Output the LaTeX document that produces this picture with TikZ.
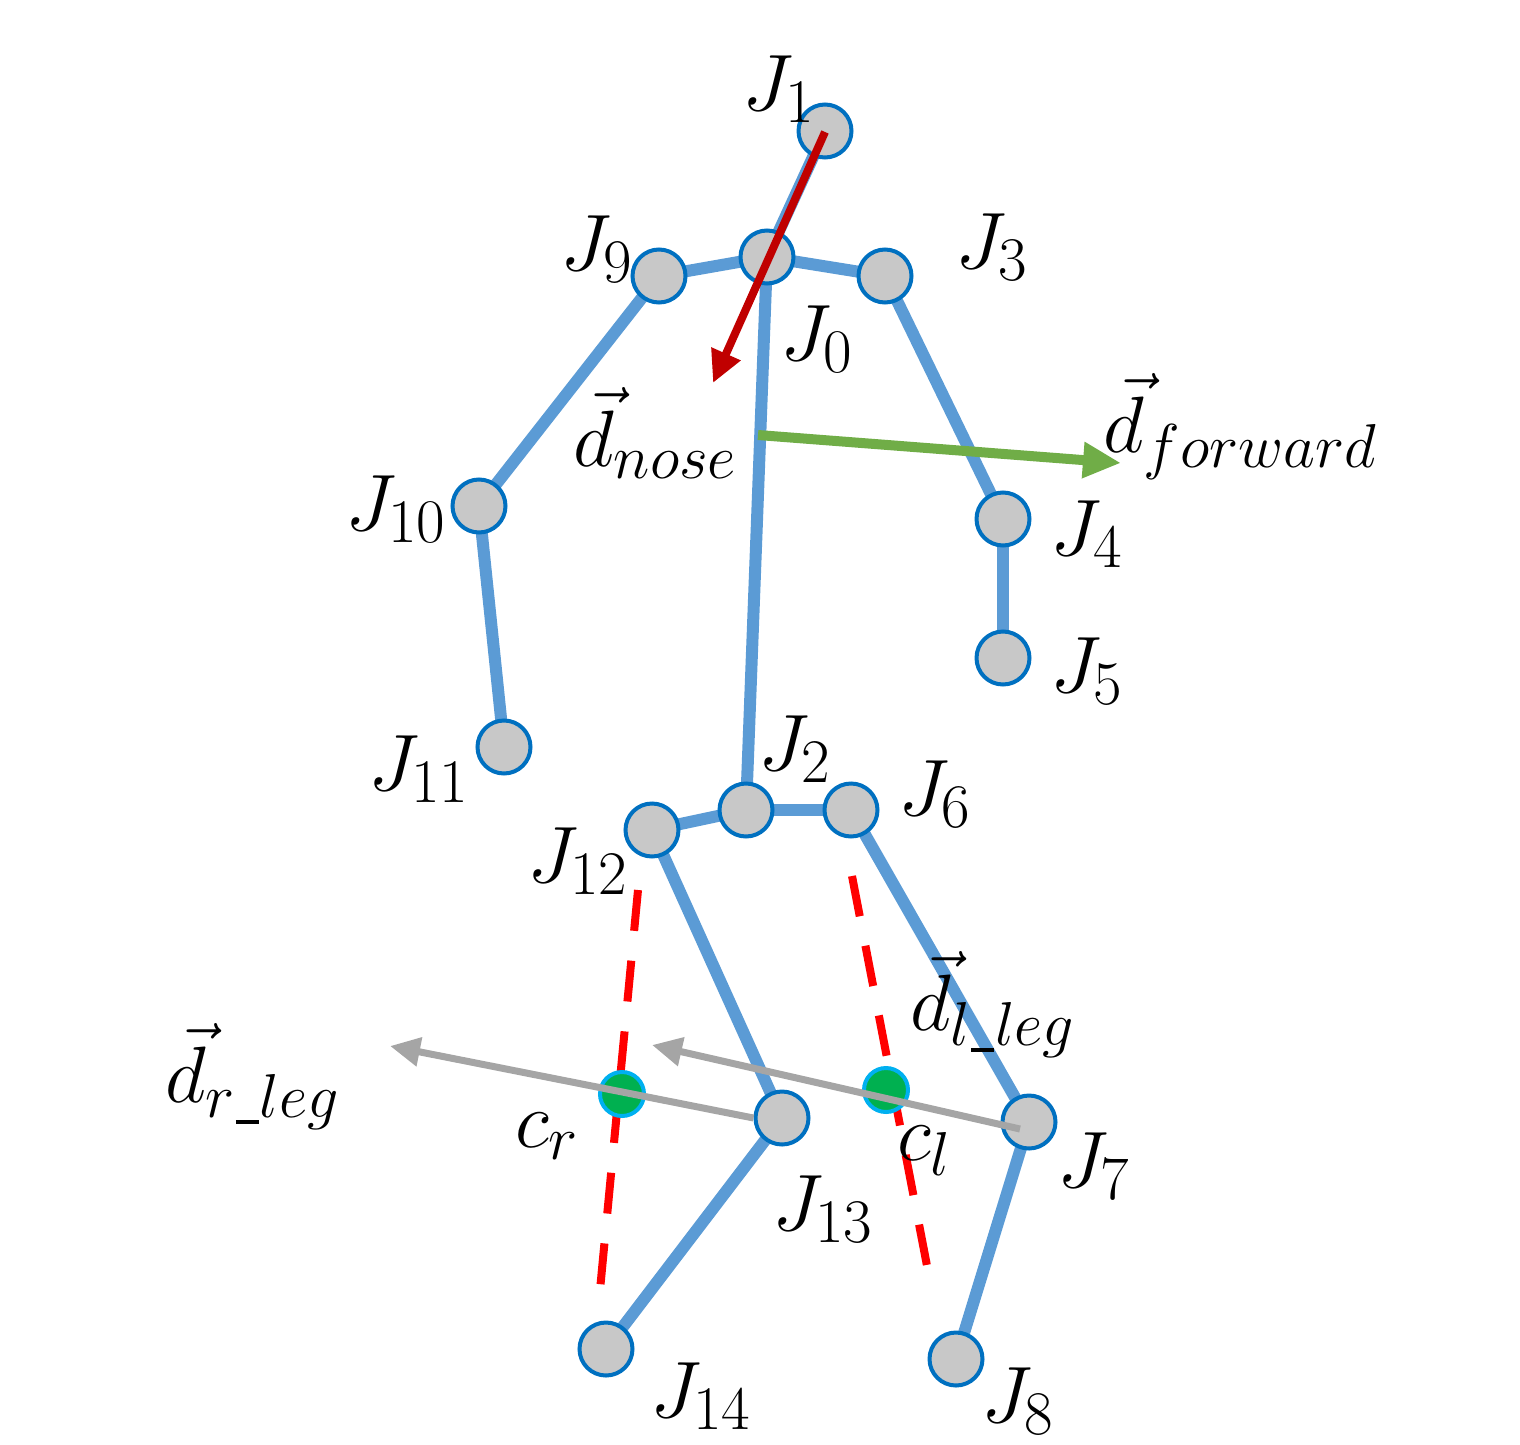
\RequirePackage{fix-cm}
\documentclass[tikz,border=0pt]{standalone}
\usetikzlibrary{arrows.meta}
\DeclareMathSizes{80}{80}{62}{48}
\definecolor{bone}{HTML}{5B9BD5}
\definecolor{jointborder}{HTML}{0070C0}
\definecolor{jointfill}{HTML}{C8C8C8}
\definecolor{nosered}{HTML}{C00000}
\definecolor{fwdgreen}{HTML}{70AD47}
\definecolor{leggray}{HTML}{A5A5A5}
\definecolor{dashred}{HTML}{FF0000}
\definecolor{cfill}{HTML}{00B050}
\definecolor{cborder}{HTML}{00B0F0}
\newcommand{\usc}{\kern1pt\rule[-6pt]{23pt}{4pt}\kern1pt}
\tikzset{
  joint/.style={circle, draw=jointborder, fill=jointfill, line width=4pt, minimum size=53pt, inner sep=0pt},
  centre/.style={circle, draw=cborder, fill=cfill, line width=4pt, minimum size=44pt, inner sep=0pt},
  bonestyle/.style={draw=bone, line width=12pt},
  halfline/.style={draw=dashred, line width=8pt, dash pattern=on 41pt off 30pt},
  lbl/.style={anchor=base west, inner sep=0pt, font=\fontsize{80}{96}\selectfont},
  nosearrow/.style={draw=nosered, line width=8pt, -{Triangle[length=32pt,width=30pt]}},
  fwdarrow/.style={draw=fwdgreen, line width=10pt, -{Triangle[length=38pt,width=34pt]}},
  legarrow/.style={draw=leggray, line width=7pt, -{Triangle[length=30pt,width=28pt]}}
}
\begin{document}
\begin{tikzpicture}[x=1pt,y=-1pt]
\useasboundingbox (0,0) rectangle (1520,1445);
% joint positions
\coordinate (p1) at (825,131);
\coordinate (p0) at (767,257);
\coordinate (p9) at (659,276);
\coordinate (p3) at (885,276);
\coordinate (p10) at (479,506);
\coordinate (p11) at (504,747);
\coordinate (p4) at (1003,519);
\coordinate (p5) at (1003,658);
\coordinate (p2) at (746,810);
\coordinate (p6) at (851,810);
\coordinate (p12) at (652,830);
\coordinate (p13) at (782,1118);
\coordinate (p14) at (606,1349);
\coordinate (p7) at (1029,1122);
\coordinate (p8) at (956,1359);
% bones
\draw[bonestyle] (p1) -- (p0);
\draw[bonestyle] (p0) -- (p9);
\draw[bonestyle] (p0) -- (p3);
\draw[bonestyle] (p9) -- (p10);
\draw[bonestyle] (p10) -- (p11);
\draw[bonestyle] (p3) -- (p4);
\draw[bonestyle] (p4) -- (p5);
\draw[bonestyle] (p0) -- (p2);
\draw[bonestyle] (p2) -- (p12);
\draw[bonestyle] (p2) -- (p6);
\draw[bonestyle] (p12) -- (p13);
\draw[bonestyle] (p13) -- (p14);
\draw[bonestyle] (p6) -- (p7);
\draw[bonestyle] (p7) -- (p8);
% dashed leg lines
\coordinate (rtop) at (638,890);
\coordinate (rbot) at (600,1290);
\coordinate (ltop) at (852,876);
\coordinate (lbot) at (928,1271);
\draw[halfline] (rtop) -- (rbot);
\draw[halfline] (ltop) -- (lbot);
% joints
\foreach \i in {1,0,9,3,10,11,4,5,2,6,12,13,14,7,8}
  \node[joint] (J\i) at (p\i) {};
% leg centres
\node[centre] (cr) at (622,1094) {};
\node[centre] (cl) at (886,1090) {};
% direction arrows
\coordinate (rlegtip) at (390,1046);
\coordinate (llegtip) at (652,1045);
\coordinate (nosetip) at (713,383);
\coordinate (fwdstart) at (758,435);
\coordinate (fwdtip) at (1121,463);
\draw[legarrow] (J13.west) -- (rlegtip);
\draw[legarrow] ([shift={(-9pt,-7pt)}]J7.center) -- (llegtip);
\draw[nosearrow] ([shift={(0pt,-1pt)}]J1.center) -- (nosetip);
\draw[fwdarrow] (fwdstart) -- (fwdtip);
% labels
\node[lbl] (L1) at (742,110) {$J_{1}$};
\node[lbl] (L9) at (560,270) {$J_{9}$};
\node[lbl] (L3) at (955,268) {$J_{3}$};
\node[lbl] (L0) at (780,360) {$J_{0}$};
\node[lbl] (Lnose) at (573,466) {$\vec{d}_{nose}$};
\node[lbl] (Lfwd) at (1103,452) {$\vec{d}_{forward}$};
\node[lbl] (L10) at (345,530) {$J_{10}$};
\node[lbl] (L4) at (1050,555) {$J_{4}$};
\node[lbl] (L5) at (1050,692) {$J_{5}$};
\node[lbl] (L11) at (368,790) {$J_{11}$};
\node[lbl] (L2) at (758,770) {$J_{2}$};
\node[lbl] (L6) at (898,815) {$J_{6}$};
\node[lbl] (L12) at (527,882) {$J_{12}$};
\node[lbl] (Lll) at (910,1030) {$\vec{d}_{l\usc leg}$};
\node[lbl] (Lrl) at (165,1102) {$\vec{d}_{r\usc leg}$};
\node[lbl] (Lcr) at (515,1147) {$c_{r}$};
\node[lbl] (Lcl) at (897,1160) {$c_{l}$};
\node[lbl] (L13) at (772,1230) {$J_{13}$};
\node[lbl] (L7) at (1057,1187) {$J_{7}$};
\node[lbl] (L14) at (650,1417) {$J_{14}$};
\node[lbl] (L8) at (981,1422) {$J_{8}$};
\end{tikzpicture}
\end{document}
